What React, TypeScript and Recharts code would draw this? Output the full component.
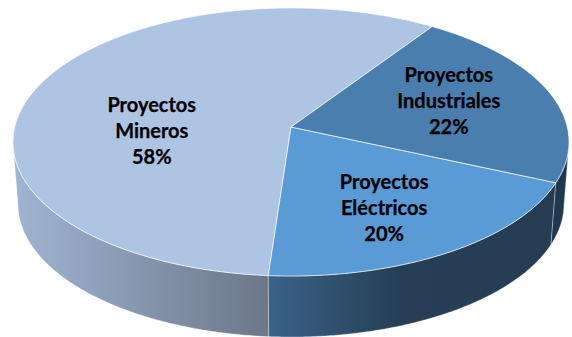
import { Pie, PieChart } from 'recharts'

const categories = ['Proyectos Mineros', 'Proyectos Eléctricos', 'Proyectos Industriales']
const values = [58, 20, 22]
const topColors = ['#adc4e3', '#5b9bd5', '#4a7eae']
const wallFills = ['url(#wallMineros)', 'url(#wallElectricos)', '#20384f']
const labelNudges = [
  [14, 27],
  [-1, 6],
  [3, -5],
]

const rows = categories.map((name, i) => ({
  name,
  value: values[i],
  fill: topColors[i],
  wall: wallFills[i],
  nudge: labelNudges[i],
}))

const WIDTH = 572
const HEIGHT = 337
const CX = 291
const CY = 142
const RADIUS = 278
const START_ANGLE = 56.9
const SQUASH = 134 / 278 // ry / rx of the top face
const HUB_LIFT = 0.112 // how far the hub sits above the ellipse centre, in ry units
const TILT = 0.085 // perspective pull on the rim angles
const BOTTOM_DROP = 62
const BOTTOM_SHRINK = 5

const RAD = Math.PI / 180

// perspective map of the unit circle: keeps the rim on the rim and shifts the angles
function rimPoint(angle: number) {
  const x = Math.cos(angle * RAD)
  const y = Math.sin(angle * RAD)
  const d = 1 + TILT * y
  return { x: (x * Math.sqrt(1 - TILT * TILT)) / d, y: (y + TILT) / d }
}

function sampleAngles(start: number, end: number) {
  const steps = Math.max(2, Math.ceil(Math.abs(end - start) / 0.5))
  return Array.from({ length: steps + 1 }, (_, i) => start + ((end - start) * i) / steps)
}

function pathOf(points: { x: number; y: number }[]) {
  return points.map((p, i) => `${i === 0 ? 'M' : 'L'}${p.x.toFixed(2)} ${p.y.toFixed(2)}`).join(' ')
}

function TopFace(props: any) {
  const { cx, cy, outerRadius, startAngle, endAngle, fill } = props
  const ry = outerRadius * SQUASH
  const rim = sampleAngles(startAngle, endAngle).map(rimPoint)
  const points = [
    { x: cx, y: cy - HUB_LIFT * ry },
    ...rim.map((p) => ({ x: cx + p.x * outerRadius, y: cy - p.y * ry })),
  ]
  return (
    <path
      d={`${pathOf(points)} Z`}
      fill={fill}
      stroke="rgba(255,255,255,0.65)"
      strokeWidth={1}
      strokeLinejoin="round"
    />
  )
}

function SideWall(props: any) {
  const { cx, cy, outerRadius, startAngle, endAngle, wall } = props
  const ry = outerRadius * SQUASH
  // only the part of the rim that faces the viewer has a visible wall
  const front = sampleAngles(startAngle, endAngle)
    .map(rimPoint)
    .filter((p) => p.y <= 0)
  if (front.length < 2) return <g />
  const upper = front.map((p) => ({ x: cx + p.x * outerRadius, y: cy - p.y * ry }))
  const lower = front
    .map((p) => ({
      x: cx + p.x * (outerRadius - BOTTOM_SHRINK),
      y: cy + BOTTOM_DROP - p.y * (ry - 1),
    }))
    .reverse()
  return (
    <path
      d={`${pathOf([...upper, ...lower])} Z`}
      fill={wall}
      stroke="rgba(255,255,255,0.32)"
      strokeWidth={1}
    />
  )
}

function SliceLabel(props: any) {
  const { cx, cy, outerRadius, midAngle, index } = props
  const row = rows[index]
  const ry = outerRadius * SQUASH
  const rim = rimPoint(midAngle)
  const hubY = cy - HUB_LIFT * ry
  const x = cx + 0.6 * rim.x * outerRadius + row.nudge[0]
  const y = hubY + 0.6 * (cy - rim.y * ry - hubY) + row.nudge[1]
  const lines = [...row.name.split(' '), `${row.value}%`]
  return (
    <text
      x={x}
      textAnchor="middle"
      fontFamily="Lato, 'Open Sans', sans-serif"
      fontWeight={700}
      fontSize={20}
      fill="#000"
      stroke="#000"
      strokeWidth={0.25}
    >
      {lines.map((line, i) => (
        <tspan key={line} x={x} y={y + (i - 1) * 26 + 7}>
          {line}
        </tspan>
      ))}
    </text>
  )
}

export default function App() {
  return (
    <div style={{ position: 'absolute', left: 0, top: 0, width: WIDTH, height: HEIGHT, background: '#fff' }}>
      <PieChart width={WIDTH} height={HEIGHT} margin={{ top: 0, right: 0, bottom: 0, left: 0 }}>
        <defs>
          <linearGradient id="wallMineros" x1="0" y1="0" x2="1" y2="0">
            <stop offset="0%" stopColor="#a0b5d3" />
            <stop offset="100%" stopColor="#6c7788" />
          </linearGradient>
          <linearGradient id="wallElectricos" x1="0" y1="0" x2="1" y2="0">
            <stop offset="0%" stopColor="#3a6389" />
            <stop offset="45%" stopColor="#263f56" />
            <stop offset="100%" stopColor="#253d53" />
          </linearGradient>
        </defs>
        <Pie
          data={rows}
          dataKey="value"
          nameKey="name"
          cx={CX}
          cy={CY}
          outerRadius={RADIUS}
          startAngle={START_ANGLE}
          endAngle={START_ANGLE + 360}
          stroke="none"
          shape={SideWall}
          isAnimationActive={false}
        />
        <Pie
          data={rows}
          dataKey="value"
          nameKey="name"
          cx={CX}
          cy={CY}
          outerRadius={RADIUS}
          startAngle={START_ANGLE}
          endAngle={START_ANGLE + 360}
          stroke="none"
          shape={TopFace}
          label={SliceLabel}
          labelLine={false}
          isAnimationActive={false}
        />
      </PieChart>
    </div>
  )
}
